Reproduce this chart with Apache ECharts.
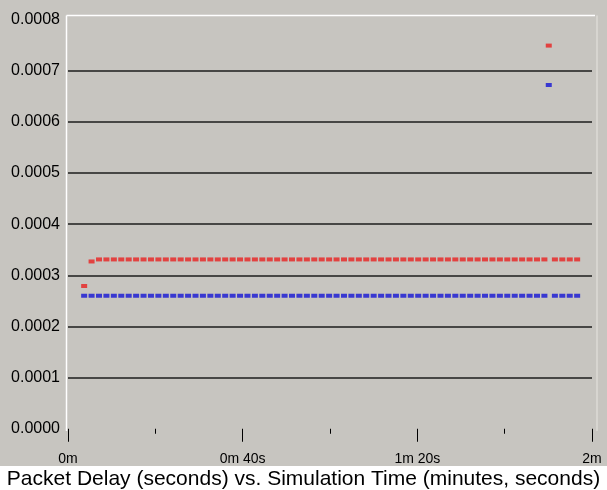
<!DOCTYPE html>
<html>
<head>
<meta charset="utf-8">
<script src="https://cdn.jsdelivr.net/npm/echarts@6/dist/echarts.min.js"></script>
<style>
  html, body { margin: 0; padding: 0; background: #ffffff; }
  #chart { width: 607px; height: 490px; }
</style>
</head>
<body>
<div id="chart"></div>
<script>
// Sample times (seconds of simulation time)
const sampleTimes = [
  3.7, 5.4, 7.1, 8.8, 10.5, 12.2, 13.9, 15.6, 17.3, 19.0,
  20.7, 22.4, 24.1, 25.8, 27.5, 29.2, 30.9, 32.6, 34.3, 36.0,
  37.7, 39.4, 41.1, 42.8, 44.5, 46.2, 47.9, 49.6, 51.3, 53.0,
  54.7, 56.4, 58.1, 59.8, 61.5, 63.2, 64.9, 66.6, 68.3, 70.0,
  71.7, 73.4, 75.1, 76.8, 78.5, 80.2, 81.9, 83.6, 85.3, 87.0,
  88.7, 90.4, 92.1, 93.8, 95.5, 97.2, 98.9, 100.6, 102.3, 104.0,
  105.7, 107.4, 109.1, 110.1, 111.5, 113.2, 114.9, 116.6
];

// Packet delay (seconds), red flow
const redDelay = [
  0.000279, 0.000327, 0.000331, 0.000331, 0.000331, 0.000331, 0.000331, 0.000331, 0.000331, 0.000331,
  0.000331, 0.000331, 0.000331, 0.000331, 0.000331, 0.000331, 0.000331, 0.000331, 0.000331, 0.000331,
  0.000331, 0.000331, 0.000331, 0.000331, 0.000331, 0.000331, 0.000331, 0.000331, 0.000331, 0.000331,
  0.000331, 0.000331, 0.000331, 0.000331, 0.000331, 0.000331, 0.000331, 0.000331, 0.000331, 0.000331,
  0.000331, 0.000331, 0.000331, 0.000331, 0.000331, 0.000331, 0.000331, 0.000331, 0.000331, 0.000331,
  0.000331, 0.000331, 0.000331, 0.000331, 0.000331, 0.000331, 0.000331, 0.000331, 0.000331, 0.000331,
  0.000331, 0.000331, 0.000331, 0.000749, 0.000331, 0.000331, 0.000331, 0.000331
];

// Packet delay (seconds), blue flow
const blueDelay = [
  0.000260, 0.000260, 0.000260, 0.000260, 0.000260, 0.000260, 0.000260, 0.000260, 0.000260, 0.000260,
  0.000260, 0.000260, 0.000260, 0.000260, 0.000260, 0.000260, 0.000260, 0.000260, 0.000260, 0.000260,
  0.000260, 0.000260, 0.000260, 0.000260, 0.000260, 0.000260, 0.000260, 0.000260, 0.000260, 0.000260,
  0.000260, 0.000260, 0.000260, 0.000260, 0.000260, 0.000260, 0.000260, 0.000260, 0.000260, 0.000260,
  0.000260, 0.000260, 0.000260, 0.000260, 0.000260, 0.000260, 0.000260, 0.000260, 0.000260, 0.000260,
  0.000260, 0.000260, 0.000260, 0.000260, 0.000260, 0.000260, 0.000260, 0.000260, 0.000260, 0.000260,
  0.000260, 0.000260, 0.000260, 0.000672, 0.000260, 0.000260, 0.000260, 0.000260
];

// Axis tick labels
const timeTickValues = [0, 40, 80, 120];
const timeTickLabels = ['0m', '0m 40s', '1m 20s', '2m'];

const chartTitle = 'Packet Delay (seconds) vs. Simulation Time (minutes, seconds)';

// Layout
const W = 607, H = 490;
const plotLeft = 68, plotRight = 592, plotTop = 19.5, plotBottom = 428.75;
const FONT = '"Liberation Sans", Arial, sans-serif';

const toPairs = (xs, ys) => xs.map((x, i) => [x, ys[i]]);

const chart = echarts.init(document.getElementById('chart'), null, { renderer: 'canvas' });

chart.setOption({
  animation: false,
  backgroundColor: '#c7c5c0',
  grid: {
    left: plotLeft,
    right: W - plotRight,
    top: plotTop,
    bottom: H - plotBottom,
    containLabel: false
  },
  graphic: [
    // white band under the axis labels carrying the caption
    { type: 'rect', shape: { x: 0, y: 466, width: W, height: H - 466 },
      style: { fill: '#ffffff' }, silent: true, z: -1 },
    { type: 'text', x: W / 2, y: 479,
      style: { text: chartTitle, font: '21px ' + FONT, fill: '#000',
               textAlign: 'center', textVerticalAlign: 'middle' }, silent: true },
    // plot frame: light top/left edges, faint right edge
    { type: 'line', shape: { x1: plotLeft - 1.5, y1: 15.5, x2: 595, y2: 15.5 },
      style: { stroke: '#ffffff', lineWidth: 1.5 }, silent: true },
    { type: 'line', shape: { x1: plotLeft - 1.5, y1: 15.5, x2: plotLeft - 1.5, y2: 431 },
      style: { stroke: '#ffffff', lineWidth: 1.5 }, silent: true },
    { type: 'line', shape: { x1: 597, y1: 15.5, x2: 597, y2: 431 },
      style: { stroke: '#dcdad6', lineWidth: 1.5 }, silent: true }
  ],
  xAxis: {
    type: 'value',
    min: 0,
    max: 120,
    interval: 40,
    offset: 4,
    axisLine: { show: false },
    axisTick: { show: true, length: 13, lineStyle: { color: '#000', width: 1 } },
    minorTick: { show: true, splitNumber: 2, length: 5, lineStyle: { color: '#000', width: 1 } },
    splitLine: { show: false },
    axisLabel: {
      margin: 19,
      color: '#000',
      fontFamily: FONT,
      fontSize: 14,
      formatter: v => {
        const i = timeTickValues.indexOf(v);
        return i >= 0 ? timeTickLabels[i] : '';
      }
    }
  },
  yAxis: {
    type: 'value',
    min: 0,
    max: 0.0008,
    interval: 0.0001,
    axisLine: { show: false },
    axisTick: { show: false },
    splitLine: {
      show: true,
      showMinLine: false,
      showMaxLine: false,
      lineStyle: { color: '#1c1c1c', width: 1.5 }
    },
    axisLabel: {
      margin: 8,
      color: '#000',
      fontFamily: FONT,
      fontSize: 16,
      verticalAlign: 'middle',
      padding: [0, 0, 12, 0],
      formatter: v => v.toFixed(4)
    }
  },
  series: [
    {
      name: 'red',
      type: 'scatter',
      data: toPairs(sampleTimes, redDelay),
      symbol: 'rect',
      symbolSize: [6, 4],
      itemStyle: { color: '#e8211f' },
      silent: true
    },
    {
      name: 'blue',
      type: 'scatter',
      data: toPairs(sampleTimes, blueDelay),
      symbol: 'rect',
      symbolSize: [6, 4],
      itemStyle: { color: '#1414d4' },
      silent: true
    }
  ]
});
</script>
</body>
</html>
